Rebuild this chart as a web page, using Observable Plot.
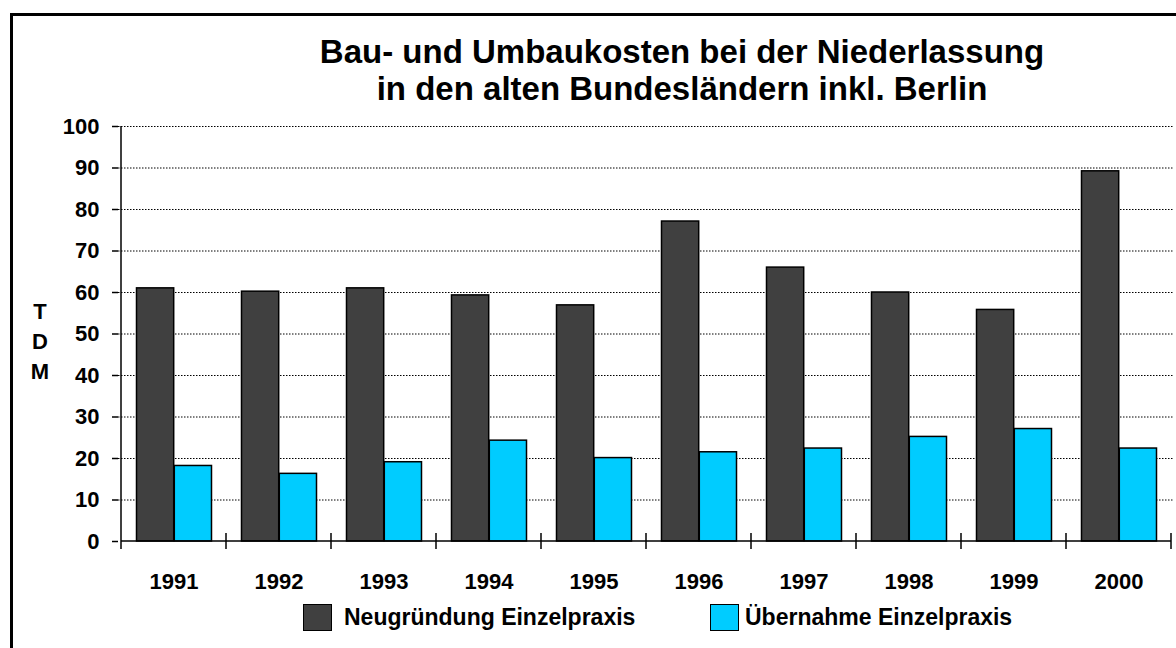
<!DOCTYPE html>
<html>
<head>
<meta charset="utf-8">
<script src="https://cdn.jsdelivr.net/npm/d3@7"></script>
<script src="https://cdn.jsdelivr.net/npm/@observablehq/plot@0.6"></script>
<style>
  body { margin: 0; background: #fff; font-family: "Liberation Sans", Arial, sans-serif; }
  #wrap { position: relative; width: 1176px; height: 648px; overflow: hidden; background: #fff; }
  #chart { position: absolute; left: 0; top: 0; }
  #frame { position: absolute; left: 10px; top: 13px; width: 1300px; height: 800px;
           border-left: 3px solid #000; border-top: 3px solid #000; pointer-events: none; }
  #title { position: absolute; left: 682px; top: 33px; transform: translateX(-50%);
           text-align: center; font-weight: bold; font-size: 33px; line-height: 37px; white-space: nowrap; color: #000; }
  #ylabel { position: absolute; left: 25px; top: 297px; width: 30px; text-align: center;
            font-weight: bold; font-size: 22px; line-height: 30px; color: #000; }
  .leg { position: absolute; top: 604px; display: flex; align-items: center; font-weight: bold; font-size: 23px; color: #000; white-space: nowrap; }
  .sw { width: 27px; height: 25px; border: 1.5px solid #000; margin-right: 12px; }
</style>
</head>
<body>
<div id="wrap">
  <div id="chart"></div>
  <div id="frame"></div>
  <div id="title"></div>
  <div id="ylabel"></div>
  <div id="legend"></div>
</div>
<script>
// ---- data ----
const titleLines = ["Bau- und Umbaukosten bei der Niederlassung", "in den alten Bundesländern inkl. Berlin"];
const yAxisLabel = ["T", "D", "M"];
const years = ["1991", "1992", "1993", "1994", "1995", "1996", "1997", "1998", "1999", "2000"];
const seriesNames = ["Neugründung Einzelpraxis", "Übernahme Einzelpraxis"];
const neugruendung = [61, 60.2, 61, 59.3, 56.9, 77.1, 66, 60, 55.8, 89.2];
const uebernahme = [18.2, 16.3, 19.1, 24.3, 20.1, 21.5, 22.4, 25.2, 27.1, 22.4];
const yTicks = [0, 10, 20, 30, 40, 50, 60, 70, 80, 90, 100];
const seriesColors = ["#404040", "#00CCFF"];

// ---- build tables ----
const neuData = years.map((y, i) => ({year: y, value: neugruendung[i], series: seriesNames[0]}));
const uebData = years.map((y, i) => ({year: y, value: uebernahme[i], series: seriesNames[1]}));

// axis lines + band boundary ticks drawn from the library's scales
function axisLines(index, scales) {
  const x = scales.x, y = scales.y;
  const bw = x.bandwidth ? x.bandwidth() : (x(years[1]) - x(years[0]));
  const edges = years.map(v => x(v)).concat([x(years[years.length - 1]) + bw]);
  const g = d3.create("svg:g").attr("stroke", "#000").attr("stroke-width", 1.5).attr("fill", "none");
  const y0 = y(0), y100 = y(100), left = edges[0], right = edges[edges.length - 1];
  g.append("line").attr("x1", left).attr("x2", left).attr("y1", y100).attr("y2", y0 + 8);
  g.append("line").attr("x1", left).attr("x2", right).attr("y1", y0).attr("y2", y0);
  edges.slice(1).forEach(e => g.append("line").attr("x1", e).attr("x2", e).attr("y1", y0 - 8).attr("y2", y0 + 8));
  return g.node();
}

const plot = Plot.plot({
  width: 1176,
  height: 648,
  marginLeft: 118,
  marginRight: 2,
  marginTop: 126,
  marginBottom: 107,
  x: {domain: years, padding: 0, axis: null, label: null},
  y: {domain: [0, 100], axis: null, label: null},
  style: {fontFamily: "'Liberation Sans', Arial, sans-serif", background: "transparent", color: "#000", overflow: "visible"},
  marks: [
    Plot.gridY(yTicks.filter(d => d > 0), {stroke: "#000", strokeOpacity: 1, strokeWidth: 1, strokeDasharray: "1.5,1.5"}),
    Plot.barY(neuData, {x: "year", y: "value", fill: seriesColors[0], stroke: "#000", strokeWidth: 1.5, insetLeft: 15.5, insetRight: 52.3}),
    Plot.barY(uebData, {x: "year", y: "value", fill: seriesColors[1], stroke: "#000", strokeWidth: 1.5, insetLeft: 53.3, insetRight: 14.5}),
    Plot.axisY({ticks: yTicks, label: null, tickSize: 6, tickPadding: 13, tickFormat: d => String(d), fontSize: 22, fontWeight: "bold", strokeWidth: 1.5}),
    Plot.axisX({label: null, tickSize: 0, tickPadding: 32, fontSize: 22, fontWeight: "bold"}),
    axisLines
  ]
});
document.getElementById("chart").appendChild(plot);

// title
const t = document.getElementById("title");
titleLines.forEach(s => { const d = document.createElement("div"); d.textContent = s; t.appendChild(d); });
// y label
const yl = document.getElementById("ylabel");
yAxisLabel.forEach(s => { const d = document.createElement("div"); d.textContent = s; yl.appendChild(d); });
// legend
const legPos = [303, 710];
const lg = document.getElementById("legend");
seriesNames.forEach((name, i) => {
  const item = document.createElement("div");
  item.className = "leg";
  item.style.left = legPos[i] + "px";
  const sw = document.createElement("div");
  sw.className = "sw";
  sw.style.background = seriesColors[i];
  if (i === 1) sw.style.marginRight = "6px";
  const tx = document.createElement("span");
  tx.textContent = name;
  item.appendChild(sw); item.appendChild(tx);
  lg.appendChild(item);
});
</script>
</body>
</html>
